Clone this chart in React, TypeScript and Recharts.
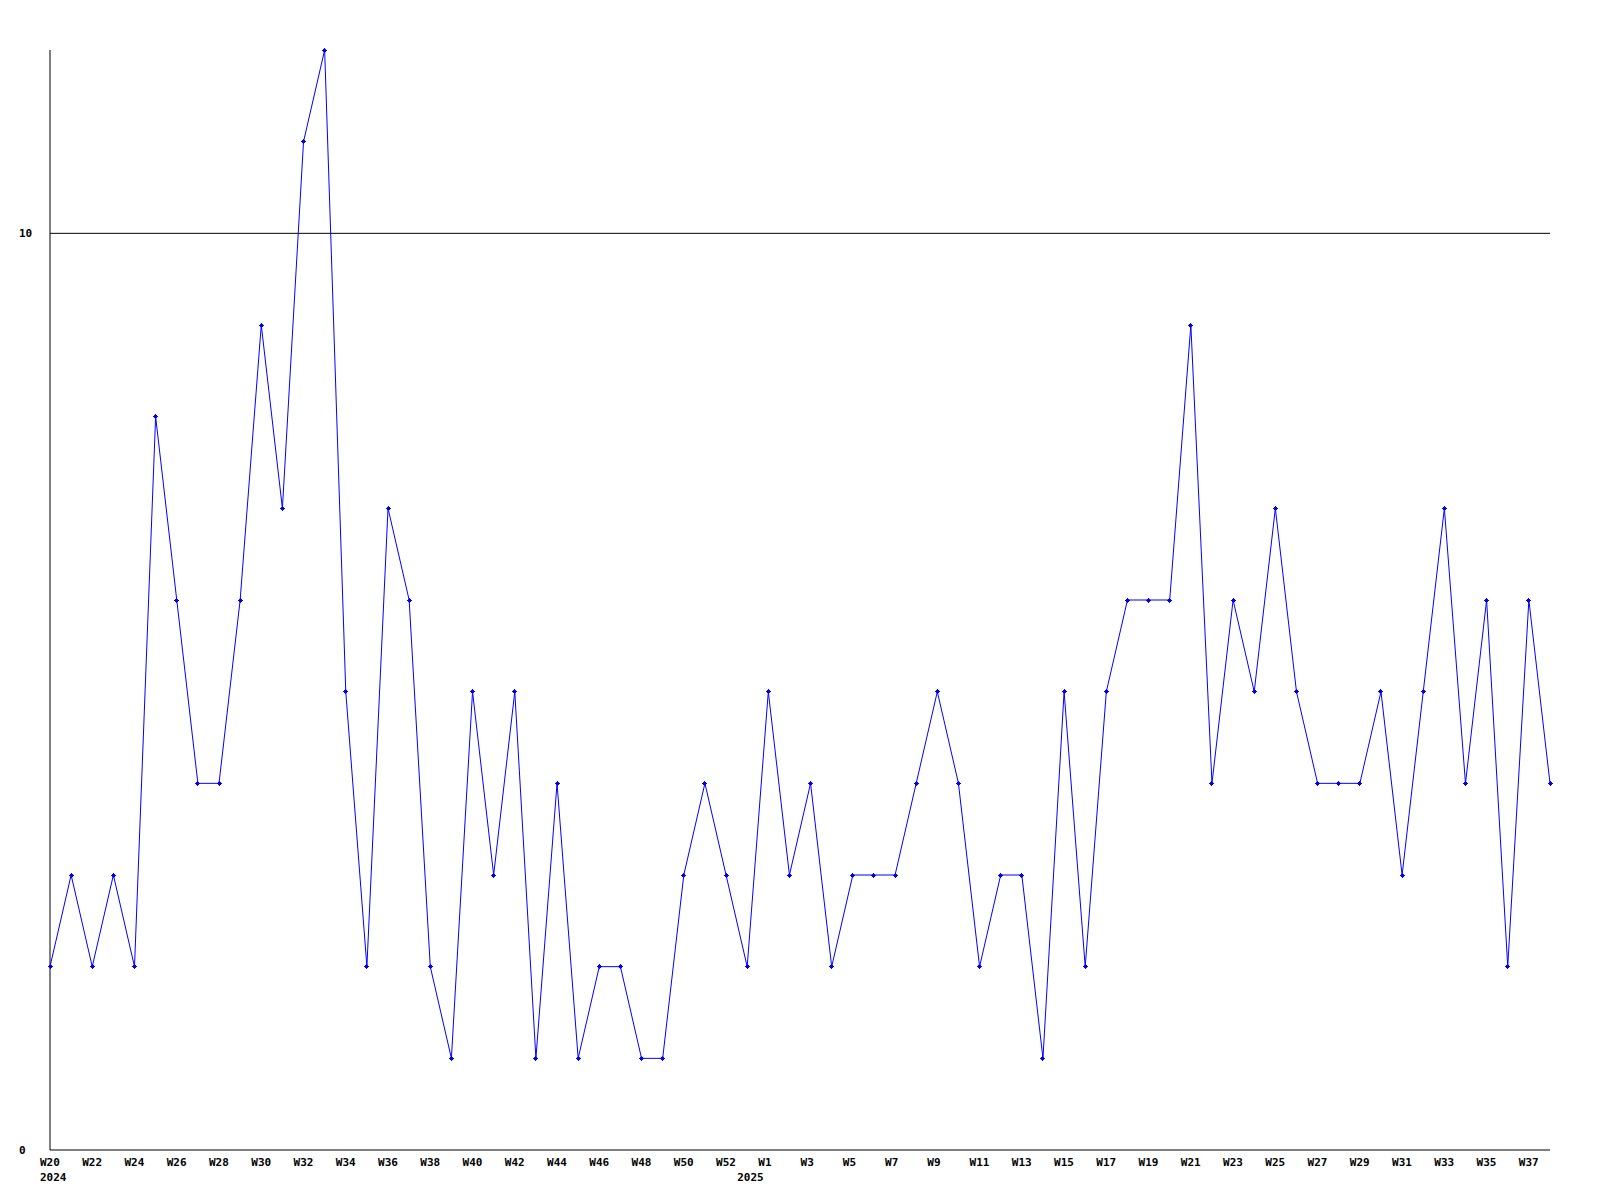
import { LineChart, Line, XAxis, YAxis, ReferenceLine } from 'recharts'

const weekLabels = [
  'W20', 'W21', 'W22', 'W23', 'W24', 'W25', 'W26', 'W27', 'W28', 'W29',
  'W30', 'W31', 'W32', 'W33', 'W34', 'W35', 'W36', 'W37', 'W38', 'W39',
  'W40', 'W41', 'W42', 'W43', 'W44', 'W45', 'W46', 'W47', 'W48', 'W49',
  'W50', 'W51', 'W52', 'W53',
  'W1', 'W2', 'W3', 'W4', 'W5', 'W6', 'W7', 'W8', 'W9', 'W10',
  'W11', 'W12', 'W13', 'W14', 'W15', 'W16', 'W17', 'W18', 'W19', 'W20',
  'W21', 'W22', 'W23', 'W24', 'W25', 'W26', 'W27', 'W28', 'W29', 'W30',
  'W31', 'W32', 'W33', 'W34', 'W35', 'W36', 'W37', 'W38',
]

const counts = [
  2, 3, 2, 3, 2, 8, 6, 4, 4, 6,
  9, 7, 11, 12, 5, 2, 7, 6, 2, 1,
  5, 3, 5, 1, 4, 1, 2, 2, 1, 1,
  3, 4, 3, 2, 5, 3, 4, 2, 3, 3,
  3, 4, 5, 4, 2, 3, 3, 1, 5, 2,
  5, 6, 6, 6, 9, 4, 6, 5, 7, 5,
  4, 4, 4, 5, 3, 5, 7, 4, 6, 2,
  6, 4,
]

// year shown under the week where it starts
const yearMarks = [
  { at: 0, label: '2024' },
  { at: 33, label: '2025' },
]

const yTicks = [0, 10]

const data = weekLabels.map((w, i) => ({ idx: i, week: w, count: counts[i] }))

const FONT = '"DejaVu Sans Mono", monospace'

function WeekTick(props: any) {
  const { x, y, index } = props
  const year = yearMarks.find((m) => m.at === index)
  return (
    <g>
      {index % 2 === 0 && (
        <text x={x - 10} y={y + 8} fontFamily={FONT} fontWeight="bold" fontSize={11} fill="#000">
          {weekLabels[index]}
        </text>
      )}
      {year && (
        <text x={x - 10} y={y + 23} fontFamily={FONT} fontWeight="bold" fontSize={11} fill="#000">
          {year.label}
        </text>
      )}
    </g>
  )
}

function CountTick(props: any) {
  const { y, payload } = props
  return (
    <text x={11} y={y + 4} fontFamily={FONT} fontWeight="bold" fontSize={11} fill="#000">
      {payload.value}
    </text>
  )
}

function PlusDot(props: any) {
  const { cx, cy } = props
  if (cx == null || cy == null) return null
  return (
    <g fill="#0000ff" shapeRendering="crispEdges">
      <rect x={cx - 2.5} y={cy - 0.5} width={5} height={1} />
      <rect x={cx - 0.5} y={cy - 2.5} width={1} height={5} />
      <rect x={cx - 1.5} y={cy - 1.5} width={3} height={3} />
    </g>
  )
}

export default function App() {
  return (
    <div style={{ width: 1592, height: 1192, background: '#fff' }}>
      <LineChart
        width={1592}
        height={1192}
        data={data}
        margin={{ top: 42, right: 50, left: 0, bottom: 10 }}
      >
        <XAxis
          dataKey="idx"
          type="category"
          interval={0}
          tickLine={false}
          axisLine={{ stroke: '#000' }}
          height={40}
          tick={<WeekTick />}
        />
        <YAxis
          domain={[0, 12]}
          ticks={yTicks}
          width={42}
          tickLine={false}
          axisLine={{ stroke: '#000' }}
          tick={<CountTick />}
        />
        <ReferenceLine y={10} stroke="#000" strokeWidth={1} />
        <Line
          type="linear"
          dataKey="count"
          stroke="#0000ff"
          strokeWidth={1}
          dot={<PlusDot />}
          activeDot={false}
          isAnimationActive={false}
        />
      </LineChart>
    </div>
  )
}
